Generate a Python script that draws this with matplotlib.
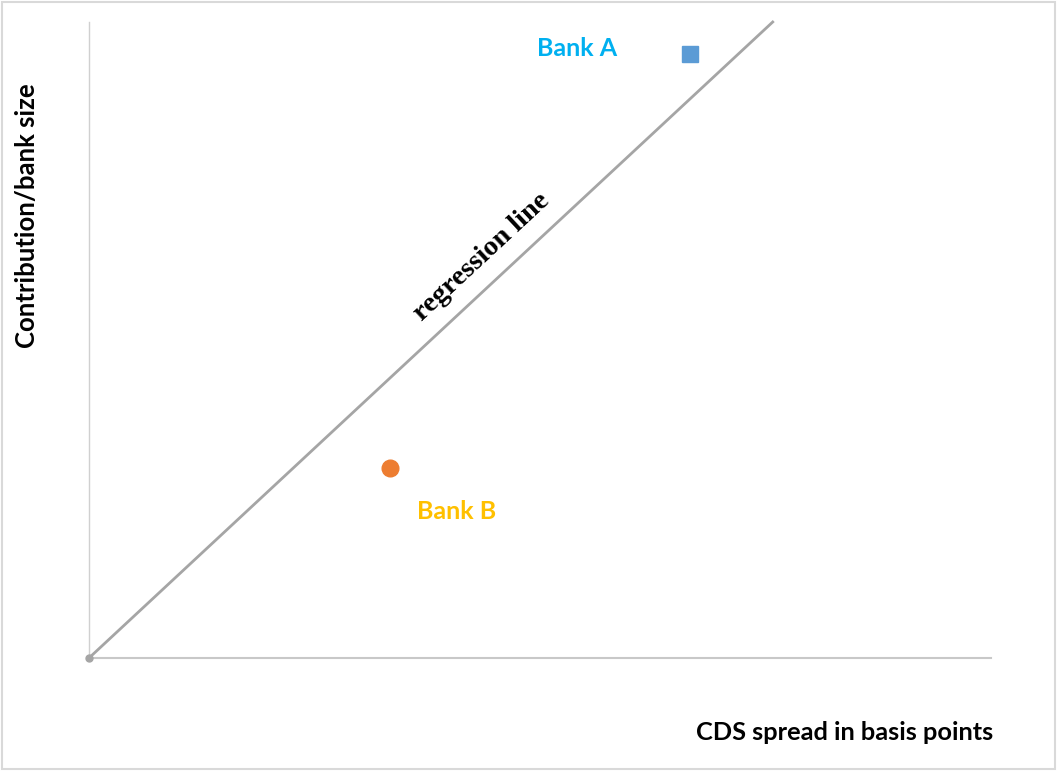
import matplotlib.pyplot as plt
from matplotlib.patches import Rectangle

# data (arbitrary units, 0-100 on both axes)
reg_x = [0, 75.8]
reg_y = [0, 100]
bank_a = (66.6, 95.0)
bank_b = (33.4, 29.9)

W, H = 1057, 771
fig = plt.figure(figsize=(W / 100, H / 100), dpi=100)
ax = fig.add_axes([89 / W, (H - 658) / H, (991 - 89) / W, (658 - 22) / H])
ax.set_xlim(0, 100)
ax.set_ylim(0, 100)

for s in ['top', 'right']:
    ax.spines[s].set_visible(False)
ax.spines['left'].set_color('#d0d0d0')
ax.spines['left'].set_linewidth(1.0)
ax.spines['bottom'].set_color('#c8c8c8')
ax.spines['bottom'].set_linewidth(1.5)
ax.set_xticks([])
ax.set_yticks([])

# regression line
ax.plot(reg_x, reg_y, color='#a5a5a5', lw=2, clip_on=False)
ax.plot(0, 0, 'o', color='#a5a5a5', ms=5, clip_on=False, zorder=5)

# banks
ax.plot(*bank_a, 's', color='#5b9bd5', ms=12, clip_on=False)
ax.plot(*bank_b, 'o', color='#ed7d31', ms=12, clip_on=False)

ax.text(54.1, 95.9, 'Bank A', color='#00b0f0', fontsize=18, fontweight='bold',
        family='Lato', ha='center', va='center')
ax.text(40.8, 23.0, 'Bank B', color='#ffc000', fontsize=18, fontweight='bold',
        family='Lato', ha='center', va='center')
ax.text(43.5, 63.0, 'regression line', color='black', fontsize=20.5, fontweight='bold',
        family='Liberation Serif', rotation=42.9, rotation_mode='anchor',
        ha='center', va='center')

fig.text(27 / W, 1 - 216 / H, 'Contribution/bank size', rotation=90, fontsize=18.5,
         fontweight='bold', family='Lato', ha='center', va='center')
fig.text(993 / W, 1 - 732 / H, 'CDS spread in basis points', fontsize=18.3,
         fontweight='bold', family='Lato', ha='right', va='center')

fig.patches.append(Rectangle((2 / W, 2 / H), 1 - 4 / W, 1 - 4 / H, transform=fig.transFigure,
                             fill=False, edgecolor='#d9d9d9', lw=1.5))

fig.savefig('out.png', dpi=100)
